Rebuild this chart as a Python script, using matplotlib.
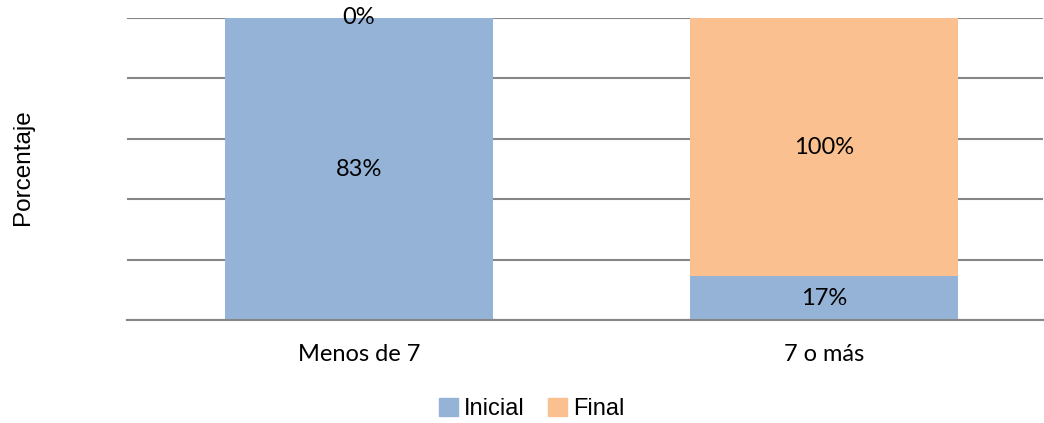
import numpy as np
import matplotlib.pyplot as plt
from matplotlib.patches import Patch

categorias = ['Menos de 7', '7 o más']
inicial = np.array([83, 17])
final = np.array([0, 100])
series = ['Inicial', 'Final']
colores = ['#95B3D7', '#FAC090']

# grafico 100% apilado: cada barra se normaliza a su total
total = inicial + final
ini_pct = inicial / total * 100
fin_pct = final / total * 100

fig = plt.figure(figsize=(10.44, 4.23), dpi=100)
ax = fig.add_axes([127/1044, 103/423, 916/1044, 302/423])

x = np.arange(len(categorias))
ancho = 0.576
ax.bar(x, ini_pct, ancho, color=colores[0], zorder=2)
ax.bar(x, fin_pct, ancho, bottom=ini_pct, color=colores[1], zorder=2)

for i in range(len(categorias)):
    ax.text(x[i], ini_pct[i] / 2, f'{inicial[i]}%', ha='center', va='center',
            fontsize=17, family='Lato', zorder=3)
    ax.text(x[i], ini_pct[i] + fin_pct[i] / 2, f'{final[i]}%', ha='center',
            va='center', fontsize=17, family='Lato', zorder=3)

ax.set_xlim(-0.499, 1.471)
ax.set_ylim(0, 100)
ax.set_yticks(np.arange(0, 101, 20))
ax.set_yticklabels([])
ax.tick_params(axis='y', length=0)
ax.tick_params(axis='x', length=0, pad=17)
ax.set_xticks(x)
ax.set_xticklabels(categorias, fontsize=17, family='Lato')
ax.grid(axis='y', color='#868686', linewidth=1.5, zorder=1)
for s in ['top', 'right', 'left']:
    ax.spines[s].set_visible(False)
ax.spines['bottom'].set_color('#868686')
ax.spines['bottom'].set_linewidth(1.5)

ax.set_ylabel('Porcentaje', fontsize=17.5, family='Liberation Sans')
ax.yaxis.set_label_coords(-0.101, 0.505)

handles = [Patch(color=c, label=s) for c, s in zip(colores, series)]
fig.legend(handles=handles, loc='center', bbox_to_anchor=(532/1044, 1 - 409/423),
           ncol=2, frameon=False, prop={'family': 'Liberation Sans', 'size': 17},
           handlelength=0.8, handleheight=0.8, handletextpad=0.25, columnspacing=1.0)

fig.savefig('out.png', dpi=100)
